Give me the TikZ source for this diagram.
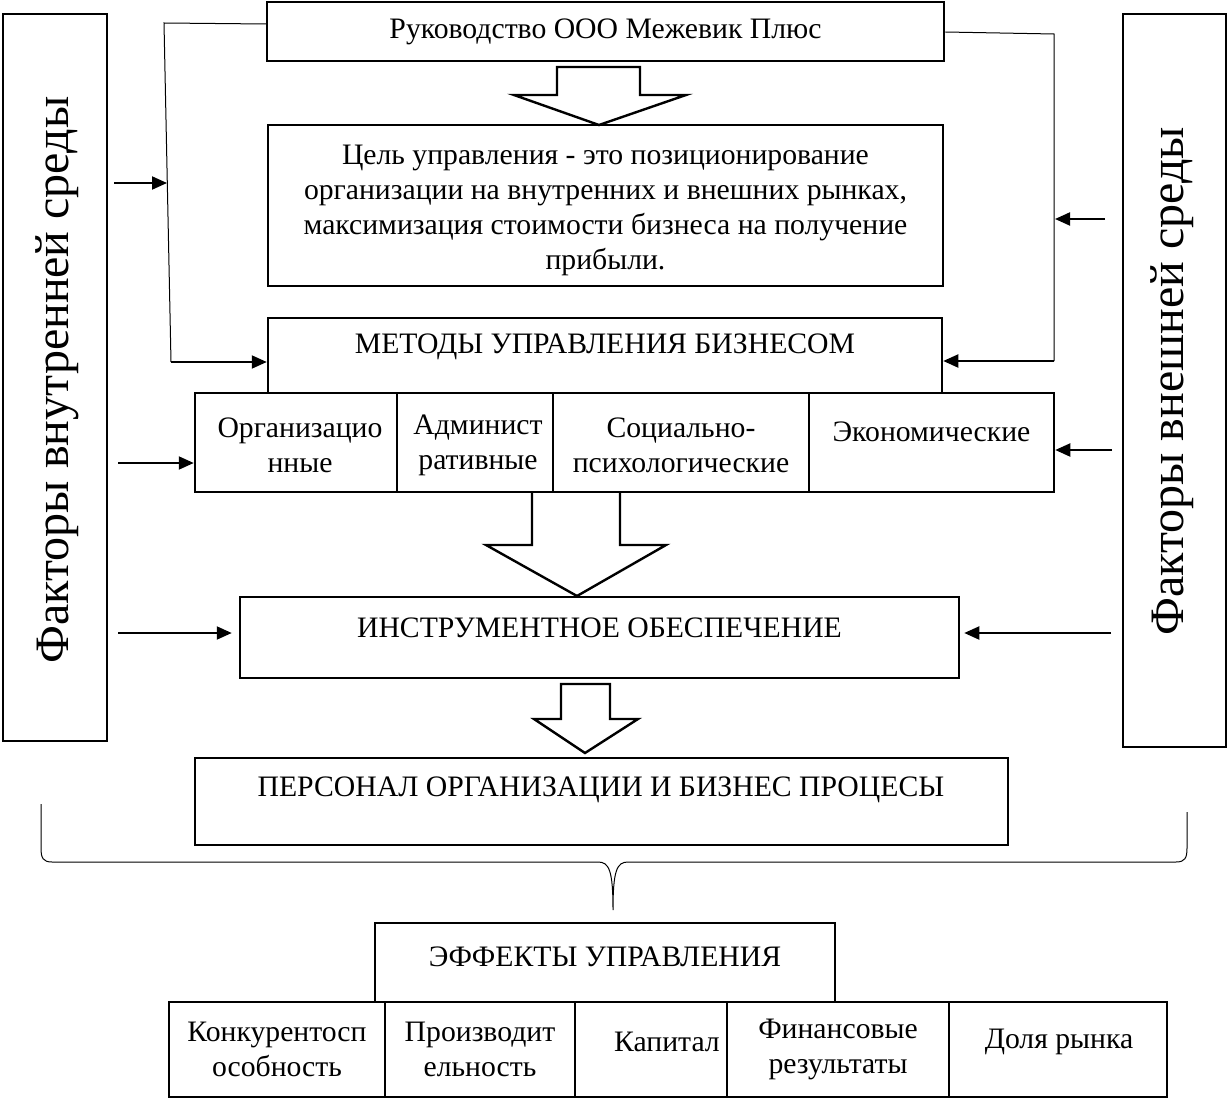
\documentclass[tikz,border=0pt]{standalone}
\usepackage{fontspec}
\setmainfont{Liberation Serif}
\usetikzlibrary{arrows.meta}
\begin{document}
\begin{tikzpicture}[x=1pt,y=-1pt,
  box/.style={draw, line width=2.5pt, inner sep=0pt, align=center},
  thinbox/.style={draw, line width=1.3pt, inner sep=0pt, align=center},
  conn/.style={line width=1pt},
  arr/.style={line width=2pt, -{Triangle[length=15pt,width=13pt]}},
  hollow/.style={draw, line width=2.4pt, line join=miter},
  txt/.style={inner sep=0pt, align=center},
  bigtxt/.style={inner sep=0pt, rotate=90, font=\fontsize{48}{52}\selectfont},
  font=\fontsize{29.7}{35}\selectfont]
\useasboundingbox (0,0) rectangle (1228,1099);

% main chain
\node[box, minimum width=677pt, minimum height=59pt] (lead) at (605.5,31.5) {Руководство ООО Межевик Плюс};
\node[thinbox, minimum width=675pt, minimum height=161pt] (goal) at (605.5,205.5) {};
\node[txt] (goalT) at (605.5,210)
  {Цель управления - это позиционирование\\организации на внутренних и внешних рынках,\\максимизация стоимости бизнеса на получение\\прибыли.};
\node[box, minimum width=674pt, minimum height=75pt] (methods) at (605,355.5) {};
\node[txt] (methodsT) at (605,347) {МЕТОДЫ УПРАВЛЕНИЯ БИЗНЕСОМ};

\node[box, minimum width=202pt, minimum height=99pt] (org) at (296,442.5) {};
\node[txt] (orgT) at (300,445) {Организацио\\нные};
\node[box, minimum width=156pt, minimum height=99pt] (adm) at (475,442.5) {};
\node[txt] (admT) at (478,445) {Админист\\ративные};
\node[box, minimum width=256pt, minimum height=99pt] (soc) at (681,442.5) {};
\node[txt] (socT) at (681,445) {Социально-\\психологические};
\node[box, minimum width=245pt, minimum height=99pt] (eco) at (931.5,442.5) {};
\node[txt] (ecoT) at (931.5,432) {Экономические};

\node[box, minimum width=719pt, minimum height=81pt] (instr) at (599.5,637.5) {};
\node[txt] (instrT) at (599.5,628) {ИНСТРУМЕНТНОЕ ОБЕСПЕЧЕНИЕ};

\node[box, minimum width=813pt, minimum height=87pt] (pers) at (601.5,801.5) {};
\node[txt] (persT) at (601,790) {ПЕРСОНАЛ ОРГАНИЗАЦИИ И БИЗНЕС ПРОЦЕСЫ};

\node[box, minimum width=460pt, minimum height=79pt] (eff) at (605,962.5) {};
\node[txt] (effT) at (605,957) {ЭФФЕКТЫ УПРАВЛЕНИЯ};

\node[box, minimum width=216pt, minimum height=95pt] (e1) at (277,1049.5) {Конкурентосп\\особность};
\node[box, minimum width=190pt, minimum height=95pt] (e2) at (480,1049.5) {Производит\\ельность};
\node[box, minimum width=152pt, minimum height=95pt] (e3) at (651,1049.5) {};
\node[txt] (e3T) at (667,1042) {Капитал};
\node[box, minimum width=222pt, minimum height=95pt] (e4) at (838,1049.5) {Финансовые\\результаты};
\node[box, minimum width=218pt, minimum height=95pt] (e5) at (1058,1049.5) {};
\node[txt] (e5T) at (1059,1042) {Доля рынка};

% factor boxes
\node[box, minimum width=104pt, minimum height=727pt] (inner) at (55,377.5) {};
\node[bigtxt] (innerT) at (57,380) {Факторы внутренней среды};
\node[box, minimum width=103pt, minimum height=733pt] (outer) at (1174.5,380.5) {};
\node[bigtxt] (outerT) at (1172,381.5) {Факторы внешней среды};

% hollow arrows
\draw[hollow] (557,67) -- (640,67) -- (640,95) -- (686,95) -- (599,125) -- (514,95) -- (557,95) -- cycle;
\draw[hollow] (532,492) -- (532,545) -- (486,545) -- (577,596) -- (666,545) -- (620,545) -- (620,492);
\draw[hollow] (561,684) -- (610,684) -- (610,719) -- (638,719) -- (585,753) -- (534,719) -- (561,719) -- cycle;

% left feedback line
\coordinate (lTop) at (164,23);
\coordinate (lBot) at (171,362);
\coordinate (lMid) at (167,183);
\coordinate (la1) at (114,183);
\draw[conn] (lead.west |- 0,24) -- (lTop) -- (lBot);
\draw[arr] (lBot) -- (methods.west |- lBot);
\draw[arr] (la1) -- (lMid);

% right feedback line
\coordinate (rTop) at (1054,34);
\coordinate (rBot) at (1054,361);
\coordinate (rMid) at (1055,219);
\coordinate (ra1) at (1105,219);
\draw[conn] (lead.east |- 0,32) -- (rTop) -- (rBot);
\draw[arr] (rBot) -- (methods.east |- rBot);
\draw[arr] (ra1) -- (rMid);

% other factor arrows
\coordinate (la2) at (118,463);
\coordinate (la3) at (118,633);
\coordinate (ra2) at (1112,450);
\coordinate (ra3) at (1111,633);
\draw[arr] (la2) -- (org.west |- la2);
\draw[arr, shorten >=7pt] (la3) -- (instr.west |- la3);
\draw[arr] (ra2) -- (eco.east |- ra2);
\draw[arr, shorten >=4pt] (ra3) -- (instr.east |- ra3);

% brace
\draw[conn] (41,804) -- (41,848) .. controls (41,858) and (43,862) .. (52,862) -- (598,862)
  .. controls (609,862) and (613,870) .. (613,910)
  .. controls (613,870) and (617,862) .. (628,862) -- (1176,862)
  .. controls (1185,862) and (1187,858) .. (1187,848) -- (1187,812);
\end{tikzpicture}
\end{document}
